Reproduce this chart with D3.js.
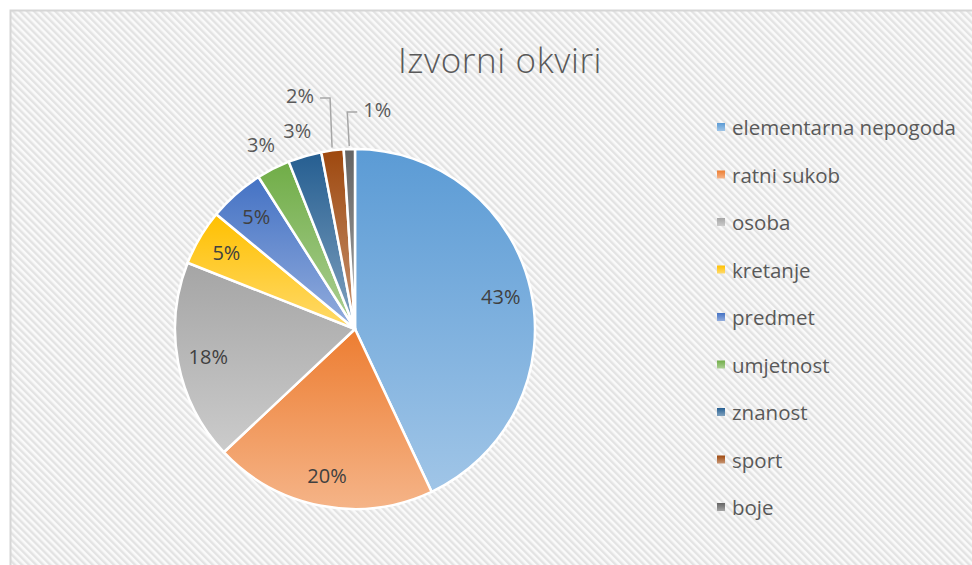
<!DOCTYPE html>
<html>
<head>
<meta charset="utf-8">
<script src="https://cdn.jsdelivr.net/npm/d3@7"></script>
<style>
  body { margin: 0; background: #fff; }
  #wrapper { width: 972px; height: 565px; }
  text { font-family: "Open Sans", "Noto Sans", sans-serif; }
</style>
</head>
<body>
<div id="wrapper"></div>
<script>
// data
const chartTitle = "Izvorni okviri";
const categories = ["elementarna nepogoda", "ratni sukob", "osoba", "kretanje", "predmet", "umjetnost", "znanost", "sport", "boje"];
const shares = [43, 20, 18, 5, 5, 3, 3, 2, 1];
const sliceColors = ["#5B9BD5", "#ED7D31", "#A5A5A5", "#FFC000", "#4472C4", "#70AD47", "#255E91", "#9E480E", "#636363"];

function drawPie() {
    const dimensions = { width: 972, height: 565 };
    const center = { x: 355, y: 329 };
    const radius = 180;

    const dataset = categories.map((name, i) => ({ name, value: shares[i], color: sliceColors[i] }));

    const svg = d3.select("#wrapper")
        .append("svg")
        .attr("width", dimensions.width)
        .attr("height", dimensions.height);

    const defs = svg.append("defs");

    // striped background
    const pattern = defs.append("pattern")
        .attr("id", "stripes")
        .attr("patternUnits", "userSpaceOnUse")
        .attr("width", 5)
        .attr("height", 5)
        .attr("patternTransform", "rotate(-45)");
    pattern.append("rect").attr("width", 5).attr("height", 5).attr("fill", "#fafafa");
    pattern.append("rect").attr("width", 2.4).attr("height", 5).attr("fill", "#e3e3e3");

    svg.append("rect")
        .attr("x", 10.5)
        .attr("y", 10.5)
        .attr("width", dimensions.width + 20)
        .attr("height", dimensions.height + 20)
        .attr("fill", "url(#stripes)")
        .attr("stroke", "#d6d6d6")
        .attr("stroke-width", 2);

    // title
    svg.append("text")
        .attr("x", 500)
        .attr("y", 73)
        .attr("text-anchor", "middle")
        .attr("font-size", 35)
        .attr("font-weight", 300)
        .attr("letter-spacing", 0.6)
        .attr("fill", "#595959")
        .text(chartTitle);

    // gradients per slice
    dataset.forEach((d, i) => {
        const g = defs.append("linearGradient")
            .attr("id", `grad-${i}`)
            .attr("x1", 0).attr("y1", 0).attr("x2", 0).attr("y2", 1);
        g.append("stop").attr("offset", "0%").attr("stop-color", d.color);
        g.append("stop").attr("offset", "100%").attr("stop-color", d3.interpolateRgb(d.color, "#fff")(0.42));
    });

    const pie = d3.pie().value(d => d.value).sort(null);
    const arcs = pie(dataset);

    const arc = d3.arc().innerRadius(0).outerRadius(radius);
    const inLabelArc = d3.arc().innerRadius(radius * 0.83).outerRadius(radius * 0.83);
    const outLabelArc = d3.arc().innerRadius(radius * 1.15).outerRadius(radius * 1.15);
    const edgeArc = d3.arc().innerRadius(radius + 3).outerRadius(radius + 3);

    const bounds = svg.append("g")
        .attr("transform", `translate(${center.x}, ${center.y})`);

    bounds.selectAll("path.slice")
        .data(arcs)
        .join("path")
        .attr("class", "slice")
        .attr("d", arc)
        .attr("fill", (d, i) => `url(#grad-${i})`)
        .attr("stroke", "#fff")
        .attr("stroke-width", 2.5)
        .attr("stroke-linejoin", "round");

    // labels
    const fmt = d => `${d.data.value}%`;
    arcs.forEach((d, i) => {
        let pos, color = "#404040";
        if (d.data.value >= 5) {
            pos = inLabelArc.centroid(d);
        } else if (d.data.value >= 3) {
            pos = outLabelArc.centroid(d);
            color = "#595959";
        } else {
            // small slices pushed out with a leader line
            color = "#595959";
            const last = i === arcs.length - 1;
            const edge = edgeArc.centroid(d);
            const side = last ? 1 : -1;
            const ly = last ? -217 : -231;
            const bendX = edge[0] + side * (last ? -2 : 2);
            const endX = bendX + side * 10;
            bounds.append("polyline")
                .attr("points", [[edge[0], edge[1]], [bendX, ly], [endX, ly]].map(p => p.join(",")).join(" "))
                .attr("fill", "none")
                .attr("stroke", "#a6a6a6")
                .attr("stroke-width", 1.5);
            pos = [endX + side * 20, ly - 3];
        }
        bounds.append("text")
            .attr("x", pos[0])
            .attr("y", pos[1])
            .attr("text-anchor", "middle")
            .attr("dominant-baseline", "central")
            .attr("font-size", 20)
            .attr("fill", color)
            .text(fmt(d));
    });

    // legend
    const legendY = d3.scalePoint()
        .domain(categories)
        .range([127, 507]);

    const legend = svg.append("g").attr("class", "legend");
    const rows = legend.selectAll("g")
        .data(dataset)
        .join("g")
        .attr("transform", d => `translate(717, ${legendY(d.name)})`);

    rows.append("rect")
        .attr("x", 0)
        .attr("y", -4)
        .attr("width", 8)
        .attr("height", 8)
        .attr("fill", (d, i) => `url(#grad-${i})`);

    rows.append("text")
        .attr("x", 15)
        .attr("y", 0)
        .attr("dominant-baseline", "central")
        .attr("font-size", 20.5)
        .attr("fill", "#595959")
        .text(d => d.name);
}

drawPie();
</script>
</body>
</html>
